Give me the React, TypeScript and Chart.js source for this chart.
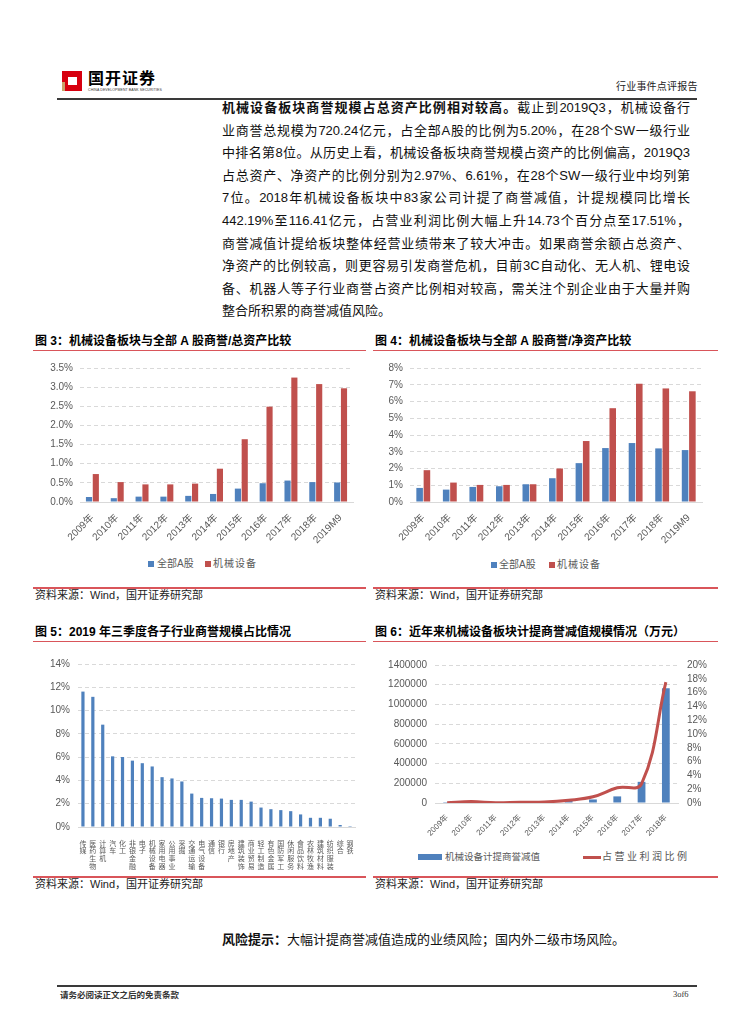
import React, { useEffect, useRef } from 'react';
import { Chart, registerables } from 'chart.js';
Chart.register(...registerables);

// ---------- data ----------
const years = ['2009年', '2010年', '2011年', '2012年', '2013年', '2014年', '2015年', '2016年', '2017年', '2018年', '2019M9'];
const allAToAssets = [0.13, 0.10, 0.14, 0.14, 0.16, 0.21, 0.35, 0.49, 0.56, 0.52, 0.51];
const machToAssets = [0.73, 0.52, 0.46, 0.46, 0.48, 0.87, 1.64, 2.49, 3.25, 3.08, 2.97];
const allAToEquity = [0.84, 0.74, 0.90, 0.94, 1.06, 1.42, 2.32, 3.22, 3.52, 3.20, 3.10];
const machToEquity = [1.90, 1.16, 1.02, 1.02, 1.06, 2.00, 3.64, 5.60, 7.06, 6.78, 6.61];

const industries = ['传媒', '医药生物', '计算机', '汽车', '化工', '非银金融', '电子', '机械设备', '家用电器', '公用事业', '采掘', '交通运输', '电气设备', '通信', '银行', '房地产', '建筑装饰', '商业贸易', '轻工制造', '有色金属', '国防军工', '休闲服务', '食品饮料', '农林牧渔', '建筑材料', '纺织服装', '综合', '钢铁'];
const industryShare = [11.63, 11.18, 8.79, 6.07, 6.01, 5.70, 5.48, 5.20, 4.28, 4.17, 3.91, 2.87, 2.50, 2.47, 2.44, 2.33, 2.33, 2.18, 1.67, 1.53, 1.45, 1.36, 1.08, 0.79, 0.79, 0.71, 0.17, 0.08];

const impairYears = ['2009年', '2010年', '2011年', '2012年', '2013年', '2014年', '2015年', '2016年', '2017年', '2018年'];
const impairment = [1000, 3000, 3000, 5000, 8000, 22000, 36000, 67000, 214700, 1164100];
const profitRatio = [0.05, 0.2, 0.05, 0.12, 0.15, 0.4, 0.9, 2.2, 2.78, 17.51];

// ---------- styles ----------
const BLUE = '#4F81BD';
const RED = '#C0504D';
const GRID = '#D9D9D9';
const TICK = '#595959';
const LINE_RED = '#D9555A';
const F = '"Liberation Sans", "Noto Sans CJK SC", sans-serif';
const CJK = '"Noto Sans CJK SC", sans-serif';

const gridColor = (c: any) => (c.tick && c.tick.value === 0 ? 'rgba(0,0,0,0)' : GRID);

function ChartBox({ left, top, width, height, make }: any) {
  const ref = useRef<HTMLCanvasElement>(null);
  useEffect(() => {
    const chart = new Chart(ref.current as HTMLCanvasElement, make());
    return () => chart.destroy();
  }, []);
  return (
    <div style={{ position: 'absolute', left, top, width, height }}>
      <canvas ref={ref} />
    </div>
  );
}

function pairBarConfig(a: number[], b: number[], max: number, step: number, fmt: (v: number) => string, yWidth: number, padRight: number) {
  return {
    type: 'bar',
    data: {
      labels: years,
      datasets: [
        { label: '全部A股', data: a, backgroundColor: BLUE },
        { label: '机械设备', data: b, backgroundColor: RED },
      ],
    },
    options: {
      animation: false,
      responsive: true,
      maintainAspectRatio: false,
      layout: { padding: { top: 13, right: padRight, left: 0, bottom: 0 } },
      plugins: { legend: { display: false }, tooltip: { enabled: false } },
      datasets: { bar: { categoryPercentage: 0.55, barPercentage: 0.9 } },
      scales: {
        x: {
          grid: { display: false },
          border: { display: true, color: GRID, width: 1 },
          ticks: { minRotation: 45, maxRotation: 45, autoSkip: false, color: TICK, font: { size: 10, family: F }, padding: 2 },
          afterFit: (s: any) => { s.height = 48; },
        },
        y: {
          min: 0,
          max,
          ticks: { stepSize: step, autoSkip: false, callback: (v: any) => fmt(Number(v)), color: TICK, font: { size: 10, family: F }, padding: 7 },
          grid: { color: gridColor, drawTicks: false },
          border: { display: false, dash: [4, 3] },
          afterFit: (s: any) => { s.width = yWidth; },
        },
      },
    },
  } as any;
}

const chart3 = () => pairBarConfig(allAToAssets, machToAssets, 3.5, 0.5, (v) => v.toFixed(1) + '%', 45, 12);
const chart4 = () => pairBarConfig(allAToEquity, machToEquity, 8, 1, (v) => v.toFixed(0) + '%', 35, 16);

const chart5 = () => ({
  type: 'bar',
  data: {
    labels: industries.map((s) => s.split('')),
    datasets: [{ label: '商誉占比', data: industryShare, backgroundColor: BLUE, categoryPercentage: 0.36, barPercentage: 0.9 }],
  },
  options: {
    animation: false,
    responsive: true,
    maintainAspectRatio: false,
    layout: { padding: { top: 13, right: 10, left: 0, bottom: 0 } },
    plugins: { legend: { display: false }, tooltip: { enabled: false } },
    scales: {
      x: {
        grid: { display: false },
        border: { display: true, color: GRID, width: 1 },
        ticks: { minRotation: 0, maxRotation: 0, autoSkip: false, color: TICK, font: { size: 7, family: CJK, lineHeight: 1.1 }, padding: 4 },
        afterFit: (s: any) => { s.height = 43; },
      },
      y: {
        min: 0,
        max: 14,
        ticks: { stepSize: 2, autoSkip: false, callback: (v: any) => Number(v).toFixed(0) + '%', color: TICK, font: { size: 10, family: F }, padding: 8 },
        grid: { color: gridColor, drawTicks: false },
        border: { display: false, dash: [4, 3] },
        afterFit: (s: any) => { s.width = 43; },
      },
    },
  },
} as any);

const chart6 = () => ({
  type: 'bar',
  data: {
    labels: impairYears,
    datasets: [
      { type: 'line', label: '占营业利润比例', data: profitRatio, yAxisID: 'y1', borderColor: RED, backgroundColor: RED, borderWidth: 3, pointRadius: 0, tension: 0.4, order: 0 },
      { type: 'bar', label: '机械设备计提商誉减值', data: impairment, yAxisID: 'y', backgroundColor: BLUE, barPercentage: 0.32, categoryPercentage: 1, order: 1 },
    ],
  },
  options: {
    animation: false,
    responsive: true,
    maintainAspectRatio: false,
    layout: { padding: { top: 13, right: 0, left: 0, bottom: 0 } },
    plugins: { legend: { display: false }, tooltip: { enabled: false } },
    scales: {
      x: {
        grid: { display: false },
        border: { display: true, color: GRID, width: 1 },
        ticks: { minRotation: 45, maxRotation: 45, autoSkip: false, color: TICK, font: { size: 8, family: F }, padding: 2 },
        afterFit: (s: any) => { s.height = 37; },
      },
      y: {
        min: 0,
        max: 1400000,
        ticks: { stepSize: 200000, autoSkip: false, callback: (v: any) => String(Math.round(Number(v))), color: TICK, font: { size: 10, family: F }, padding: 8 },
        grid: { color: gridColor, drawTicks: false },
        border: { display: false, dash: [4, 3] },
        afterFit: (s: any) => { s.width = 60; },
      },
      y1: {
        position: 'right',
        min: 0,
        max: 20,
        ticks: { stepSize: 2, autoSkip: false, callback: (v: any) => Number(v).toFixed(0) + '%', color: TICK, font: { size: 10, family: F }, padding: 9 },
        grid: { display: false, drawTicks: false },
        border: { display: false },
        afterFit: (s: any) => { s.width = 40; },
      },
    },
  },
} as any);

// ---------- text ----------
const paraLines = [
  '业商誉总规模为720.24亿元，占全部A股的比例为5.20%，在28个SW一级行业',
  '中排名第8位。从历史上看，机械设备板块商誉规模占资产的比例偏高，2019Q3',
  '占总资产、净资产的比例分别为2.97%、6.61%，在28个SW一级行业中均列第',
  '7位。2018年机械设备板块中83家公司计提了商誉减值，计提规模同比增长',
  '442.19%至116.41亿元，占营业利润比例大幅上升14.73个百分点至17.51%，',
  '商誉减值计提给板块整体经营业绩带来了较大冲击。如果商誉余额占总资产、',
  '净资产的比例较高，则更容易引发商誉危机，目前3C自动化、无人机、锂电设',
  '备、机器人等子行业商誉占资产比例相对较高，需关注个别企业由于大量并购',
];

const abs = (left: number, top: number, extra: any = {}) => ({ position: 'absolute', left, top, ...extra } as any);

function Title({ left, top, text, lineWidth }: any) {
  return (
    <>
      <div style={abs(left, top, { fontSize: 12, fontWeight: 700, whiteSpace: 'nowrap', lineHeight: '14px', fontFamily: F })}>{text}</div>
      <div style={abs(left - 2, top + 16, { width: lineWidth, height: 1, background: LINE_RED })} />
    </>
  );
}

function Source({ left, top, lineWidth }: any) {
  return (
    <>
      <div style={abs(left - 2, top, { width: lineWidth, height: 1.5, background: LINE_RED })} />
      <div style={abs(left, top + 1, { fontSize: 11, whiteSpace: 'nowrap', lineHeight: '14px', color: '#222', fontFamily: F })}>资料来源：Wind，国开证券研究部</div>
    </>
  );
}

function SquareLegend({ items }: any) {
  return (
    <>
      {items.map((it: any, i: number) => (
        <React.Fragment key={i}>
          <div style={abs(it.bx, it.y - 3, { width: 6, height: 6, background: it.color })} />
          <div style={abs(it.tx, it.y - 7, { fontSize: 10, lineHeight: '14px', color: TICK, whiteSpace: 'nowrap', letterSpacing: it.ls || 0, fontFamily: F })}>{it.text}</div>
        </React.Fragment>
      ))}
    </>
  );
}

const justLine: any = { textAlign: 'justify', textAlignLast: 'justify', height: 22.6 };

export default function App() {
  return (
    <div style={{ position: 'absolute', left: 0, top: 0, width: 754, height: 1024, background: '#fff', overflow: 'hidden', fontFamily: F, color: '#000' }}>
      {/* header */}
      <div style={abs(62, 71, { width: 20, height: 20, background: '#D7000F' })}>
        <div style={abs(6, 6, { width: 9, height: 8, background: '#fff' })} />
        <div style={abs(0, 11, { width: 3, height: 9, background: '#C9A26A' })} />
      </div>
      <div style={abs(88, 67, { fontSize: 16, fontWeight: 700, letterSpacing: 1, lineHeight: '20px', fontFamily: CJK, whiteSpace: 'nowrap' })}>国开证券</div>
      <div style={abs(88, 88, { fontSize: 3.5, lineHeight: '4px', whiteSpace: 'nowrap', color: '#333', letterSpacing: 0.1 })}>CHINA DEVELOPMENT BANK SECURITIES</div>
      <div style={abs(616, 80, { fontSize: 10, lineHeight: '12px', whiteSpace: 'nowrap', color: '#222', letterSpacing: 0.2, fontFamily: CJK })}>行业事件点评报告</div>
      <div style={abs(57, 98, { width: 640, height: 2, background: '#3a3a3a' })} />

      {/* paragraph */}
      <div style={abs(222, 97, { width: 468, fontSize: 13, lineHeight: '22.6px', color: '#111' })}>
        <div style={justLine}>
          <span style={{ fontWeight: 700 }}>机械设备板块商誉规模占总资产比例相对较高。</span>截止到2019Q3，机械设备行
        </div>
        {paraLines.map((l, i) => (
          <div key={i} style={justLine}>{l}</div>
        ))}
        <div style={{ height: 22.6 }}>整合所积累的商誉减值风险。</div>
      </div>

      {/* chart 3 */}
      <Title left={35} top={334} text="图 3：机械设备板块与全部 A 股商誉/总资产比较" lineWidth={333} />
      <ChartBox left={35} top={355} width={330} height={195} make={chart3} />
      <SquareLegend items={[
        { bx: 148, tx: 157, y: 564, color: BLUE, text: '全部A股' },
        { bx: 205, tx: 213, y: 564, color: RED, text: '机械设备', ls: 1 },
      ]} />
      <Source left={35} top={587} lineWidth={333} />

      {/* chart 4 */}
      <Title left={375} top={334} text="图 4：机械设备板块与全部 A 股商誉/净资产比较" lineWidth={345} />
      <ChartBox left={375} top={355} width={343} height={195} make={chart4} />
      <SquareLegend items={[
        { bx: 491, tx: 499, y: 565, color: BLUE, text: '全部A股' },
        { bx: 549, tx: 557, y: 565, color: RED, text: '机械设备', ls: 1 },
      ]} />
      <Source left={375} top={587} lineWidth={345} />

      {/* chart 5 */}
      <Title left={35} top={625} text="图 5：2019 年三季度各子行业商誉规模占比情况" lineWidth={333} />
      <ChartBox left={35} top={650} width={330} height={220} make={chart5} />
      <Source left={35} top={876} lineWidth={333} />

      {/* chart 6 */}
      <Title left={375} top={625} text="图 6：近年来机械设备板块计提商誉减值规模情况（万元）" lineWidth={345} />
      <ChartBox left={375} top={650} width={343} height={190} make={chart6} />
      <div style={abs(418, 854, { width: 24, height: 6, background: BLUE })} />
      <div style={abs(445, 850, { fontSize: 9.5, lineHeight: '14px', color: TICK, whiteSpace: 'nowrap' })}>机械设备计提商誉减值</div>
      <div style={abs(583, 855.5, { width: 18, height: 3, background: RED })} />
      <div style={abs(602, 850, { fontSize: 10, lineHeight: '14px', color: TICK, whiteSpace: 'nowrap', letterSpacing: 2.5 })}>占营业利润比例</div>
      <Source left={375} top={876} lineWidth={345} />

      {/* risk */}
      <div style={abs(222, 931, { fontSize: 13, lineHeight: '18px', whiteSpace: 'nowrap', color: '#111' })}>
        <span style={{ fontWeight: 700 }}>风险提示：</span>大幅计提商誉减值造成的业绩风险；国内外二级市场风险。
      </div>

      {/* footer */}
      <div style={abs(57, 985, { width: 640, height: 2, background: '#3a3a3a' })} />
      <div style={abs(60, 988, { fontSize: 8.5, lineHeight: '12px', whiteSpace: 'nowrap', color: '#333', fontWeight: 700, fontFamily: CJK })}>请务必阅读正文之后的免责条款</div>
      <div style={abs(673, 988, { fontSize: 8.5, lineHeight: '12px', whiteSpace: 'nowrap', color: '#333', fontFamily: '"Liberation Serif", serif' })}>3of6</div>
    </div>
  );
}
